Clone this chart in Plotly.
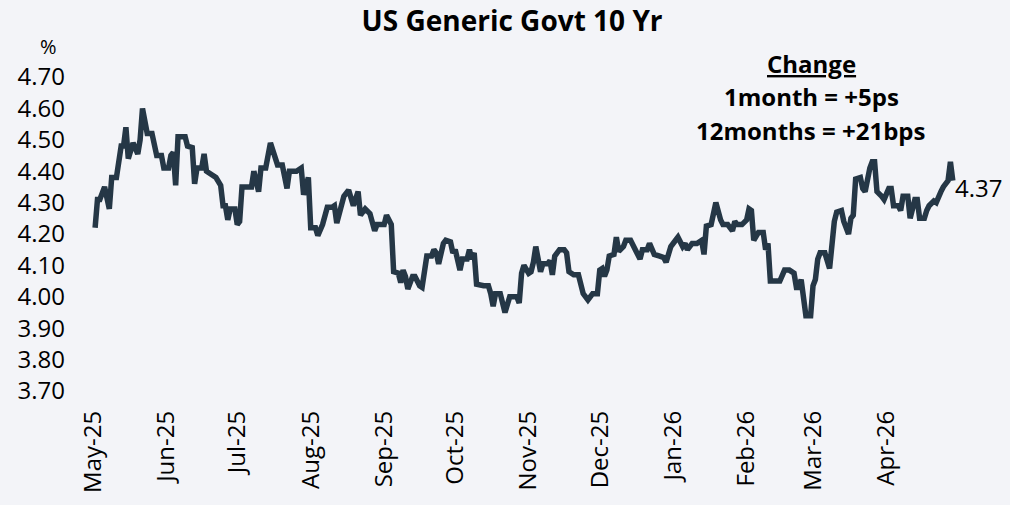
import plotly.graph_objects as go

dates = [
"2025-05-02","2025-05-03","2025-05-04","2025-05-06","2025-05-08","2025-05-09","2025-05-11","2025-05-13","2025-05-14","2025-05-15",
"2025-05-16","2025-05-18","2025-05-20","2025-05-21","2025-05-22","2025-05-24","2025-05-26","2025-05-28","2025-05-30","2025-05-31",
"2025-06-02","2025-06-03","2025-06-04","2025-06-05","2025-06-06","2025-06-09","2025-06-10","2025-06-12","2025-06-13","2025-06-14",
"2025-06-16","2025-06-17","2025-06-18","2025-06-20","2025-06-22","2025-06-24","2025-06-25","2025-06-26","2025-06-27","2025-06-28",
"2025-06-30","2025-07-01","2025-07-02","2025-07-03","2025-07-07","2025-07-08","2025-07-10","2025-07-11","2025-07-13","2025-07-15",
"2025-07-17","2025-07-18","2025-07-20","2025-07-22","2025-07-23","2025-07-26","2025-07-28","2025-07-29","2025-07-31","2025-08-01",
"2025-08-03","2025-08-04","2025-08-06","2025-08-08","2025-08-10","2025-08-11","2025-08-12","2025-08-15","2025-08-17","2025-08-19",
"2025-08-21","2025-08-22","2025-08-24","2025-08-26","2025-08-28","2025-08-29","2025-09-01","2025-09-02","2025-09-04","2025-09-05",
"2025-09-07","2025-09-08","2025-09-09","2025-09-10","2025-09-11","2025-09-13","2025-09-14","2025-09-16","2025-09-17","2025-09-18",
"2025-09-19","2025-09-21","2025-09-22","2025-09-23","2025-09-24","2025-09-26","2025-09-27","2025-09-29","2025-09-30","2025-10-01",
"2025-10-03","2025-10-04","2025-10-06","2025-10-07","2025-10-08","2025-10-09","2025-10-10","2025-10-13","2025-10-15","2025-10-16",
"2025-10-17","2025-10-18","2025-10-20","2025-10-22","2025-10-24","2025-10-27","2025-10-28","2025-10-29","2025-10-30","2025-11-01",
"2025-11-02","2025-11-03","2025-11-04","2025-11-06","2025-11-07","2025-11-09","2025-11-10","2025-11-11","2025-11-12","2025-11-14",
"2025-11-16","2025-11-17","2025-11-18","2025-11-20","2025-11-22","2025-11-24","2025-11-26","2025-11-28","2025-11-30","2025-12-01",
"2025-12-02","2025-12-03","2025-12-04","2025-12-05","2025-12-07","2025-12-08","2025-12-09","2025-12-11","2025-12-12","2025-12-14",
"2025-12-16","2025-12-18","2025-12-19","2025-12-21","2025-12-22","2025-12-24","2025-12-26","2025-12-28","2025-12-29","2025-12-31",
"2026-01-02","2026-01-03","2026-01-05","2026-01-06","2026-01-07","2026-01-09","2026-01-11","2026-01-13","2026-01-14","2026-01-15",
"2026-01-17","2026-01-19","2026-01-21","2026-01-22","2026-01-24","2026-01-26","2026-01-27","2026-01-28","2026-01-30","2026-02-01",
"2026-02-02","2026-02-03","2026-02-04","2026-02-06","2026-02-08","2026-02-09","2026-02-10","2026-02-11","2026-02-15","2026-02-16",
"2026-02-17","2026-02-19","2026-02-21","2026-02-22","2026-02-23","2026-02-24","2026-02-25","2026-02-26","2026-02-28","2026-03-01",
"2026-03-02","2026-03-03","2026-03-04","2026-03-06","2026-03-08","2026-03-09","2026-03-10","2026-03-11","2026-03-13","2026-03-14",
"2026-03-16","2026-03-17","2026-03-18","2026-03-19","2026-03-21","2026-03-22","2026-03-23","2026-03-25","2026-03-26","2026-03-27",
"2026-03-28","2026-03-30","2026-03-31","2026-04-02","2026-04-03","2026-04-04","2026-04-06","2026-04-07","2026-04-08","2026-04-10",
"2026-04-11","2026-04-13","2026-04-14","2026-04-15","2026-04-17","2026-04-18","2026-04-19","2026-04-21","2026-04-22","2026-04-24",
"2026-04-25","2026-04-27","2026-04-28","2026-04-29",
]

yields = [
4.22,4.31,4.31,4.35,4.28,4.38,4.38,4.48,4.48,4.54,
4.44,4.49,4.455,4.50,4.60,4.52,4.52,4.45,4.45,4.41,
4.41,4.45,4.46,4.355,4.51,4.51,4.48,4.475,4.36,4.41,
4.41,4.455,4.40,4.39,4.38,4.355,4.29,4.29,4.245,4.28,
4.28,4.23,4.24,4.35,4.35,4.40,4.335,4.41,4.41,4.49,
4.45,4.42,4.42,4.345,4.40,4.40,4.41,4.325,4.38,4.22,
4.22,4.195,4.23,4.285,4.285,4.29,4.235,4.32,4.34,4.29,
4.335,4.26,4.28,4.265,4.21,4.23,4.23,4.26,4.23,4.08,
4.075,4.045,4.085,4.065,4.025,4.065,4.065,4.035,4.03,4.09,
4.13,4.13,4.15,4.14,4.105,4.17,4.18,4.175,4.14,4.15,
4.085,4.12,4.12,4.15,4.12,4.14,4.04,4.035,4.035,4.01,
3.97,4.01,4.01,3.95,4.00,4.00,3.98,4.075,4.10,4.075,
4.08,4.11,4.16,4.08,4.105,4.105,4.115,4.07,4.13,4.15,
4.15,4.14,4.08,4.07,4.07,4.01,3.99,4.01,4.01,4.085,
4.09,4.065,4.085,4.13,4.135,4.19,4.145,4.16,4.18,4.18,
4.15,4.12,4.15,4.15,4.17,4.135,4.13,4.125,4.11,4.16,
4.18,4.19,4.16,4.17,4.15,4.17,4.17,4.18,4.135,4.225,
4.23,4.30,4.245,4.23,4.23,4.21,4.24,4.23,4.23,4.245,
4.28,4.275,4.18,4.205,4.205,4.15,4.17,4.05,4.05,4.075,
4.085,4.085,4.075,4.03,4.03,4.055,3.98,3.94,3.94,4.035,
4.055,4.12,4.14,4.14,4.09,4.17,4.24,4.27,4.275,4.24,
4.20,4.25,4.26,4.375,4.38,4.345,4.335,4.41,4.43,4.43,
4.335,4.32,4.31,4.345,4.345,4.29,4.29,4.275,4.32,4.32,
4.25,4.31,4.31,4.25,4.25,4.275,4.29,4.305,4.30,4.335,
4.35,4.37,4.43,4.37,
]

tick_dates = ["2025-05-01","2025-06-01","2025-07-01","2025-08-01","2025-09-01","2025-10-01",
              "2025-11-01","2025-12-01","2026-01-01","2026-02-01","2026-03-01","2026-04-01"]
tick_labels = ["May-25","Jun-25","Jul-25","Aug-25","Sep-25","Oct-25",
               "Nov-25","Dec-25","Jan-26","Feb-26","Mar-26","Apr-26"]
y_ticks = [3.70,3.80,3.90,4.00,4.10,4.20,4.30,4.40,4.50,4.60,4.70]

title_text = "US Generic Govt 10 Yr"
change_lines = ["<u>Change</u>", "1month = +5ps", "12months = +21bps"]

LINE = "#253746"
BG = "#f3f4f8"
FONT = "Open Sans"

fig = go.Figure()
fig.add_trace(go.Scatter(x=dates, y=yields, mode="lines",
                         line=dict(color=LINE, width=5.5), showlegend=False,
                         hoverinfo="x+y"))

# end-of-series value label
fig.add_annotation(x=dates[-1], y=yields[-1], xref="x", yref="y",
                   text=f"{yields[-1]:.2f}", showarrow=False,
                   xanchor="left", yanchor="middle", xshift=0, yshift=-7,
                   font=dict(family=FONT, size=24, color="#000000"))

fig.update_layout(
    width=1010, height=505,
    paper_bgcolor=BG, plot_bgcolor=BG,
    margin=dict(l=88, r=43, t=77, b=108),
    title=dict(text=f"<b>{title_text}</b>", x=0.507, xanchor="center",
               y=0.958, yanchor="middle",
               font=dict(family=FONT, size=28, color="#000000")),
    font=dict(family=FONT, color="#000000"),
    xaxis=dict(type="date", range=["2025-04-29", "2026-05-05"],
               tickmode="array", tickvals=tick_dates, ticktext=tick_labels,
               tickangle=-90, tickfont=dict(family=FONT, size=24, color="#000000"),
               showgrid=False, zeroline=False, showline=False, ticks="",
               ticklabelstandoff=14),
    yaxis=dict(range=[3.70, 4.70], tickmode="array", tickvals=y_ticks,
               ticktext=[f"{v:.2f}" for v in y_ticks],
               tickfont=dict(family=FONT, size=24, color="#000000"),
               showgrid=False, zeroline=False, showline=False, ticks="",
               ticklabelstandoff=22),
)

# "%" unit label above the y axis
fig.add_annotation(xref="paper", yref="paper", x=-0.045, y=1.098,
                   text="%", showarrow=False, xanchor="center", yanchor="middle",
                   font=dict(family=FONT, size=20, color="#000000"))

# change box
ys = [1.043, 0.937, 0.829]
for t, yy in zip(change_lines, ys):
    fig.add_annotation(xref="paper", yref="paper", x=0.823, y=yy, text=f"<b>{t}</b>",
                       showarrow=False, xanchor="center", yanchor="middle",
                       font=dict(family=FONT, size=24, color="#000000"))

fig.write_html("out.html", config={"displayModeBar": False},
               post_script="document.body.style.margin='0';document.body.style.background='" + BG + "';")
